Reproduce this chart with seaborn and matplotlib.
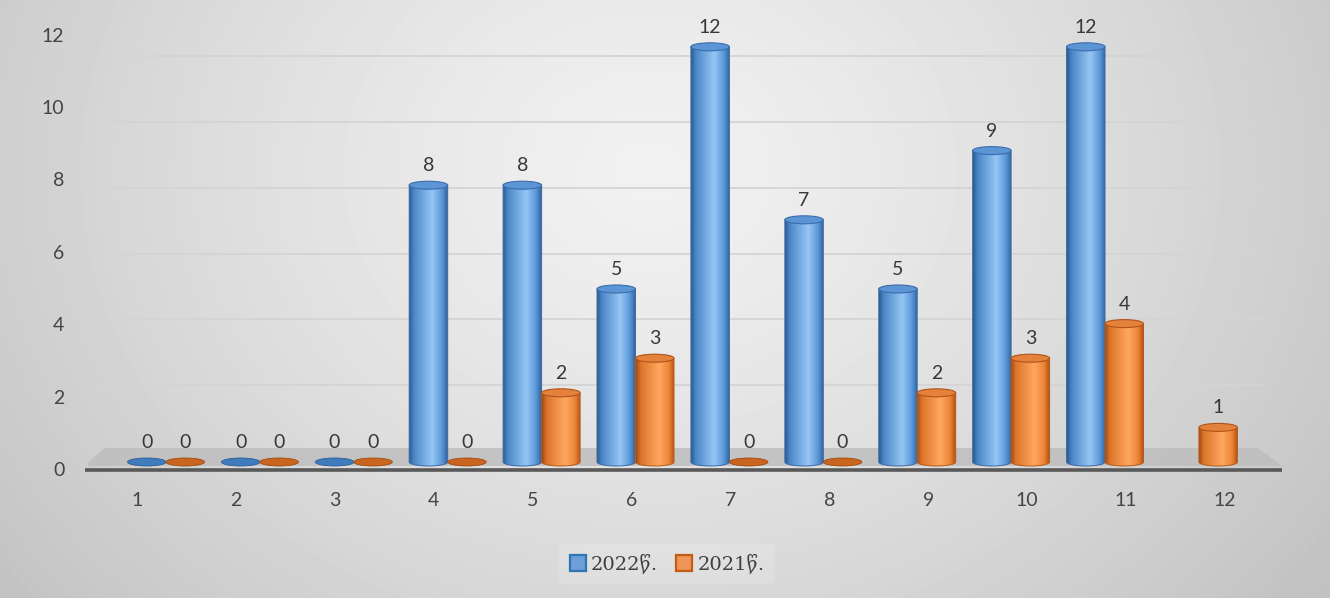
import numpy as np
import pandas as pd
import matplotlib
matplotlib.use("Agg")
import matplotlib.pyplot as plt
from matplotlib.patches import Ellipse, Polygon, PathPatch
from matplotlib.path import Path
from matplotlib.colors import LinearSegmentedColormap
from matplotlib.lines import Line2D
import seaborn as sns

# ---- data ----
months = ["1", "2", "3", "4", "5", "6", "7", "8", "9", "10", "11", "12"]
series_names = ["2022წ.", "2021წ."]
counts_2022 = [0, 0, 0, 8, 8, 5, 12, 7, 5, 9, 12, np.nan]
counts_2021 = [0, 0, 0, 0, 2, 3, 0, 0, 2, 3, 4, 1]
y_ticks = [0, 2, 4, 6, 8, 10, 12]

df = pd.DataFrame({
    "month": months * 2,
    "count": counts_2022 + counts_2021,
    "year": [series_names[0]] * len(months) + [series_names[1]] * len(months),
}).dropna()

# ---- styling ----
sns.set_theme(style="white")
plt.rcParams["font.family"] = ["Lato", "DejaVu Sans"]

W, H = 1330, 598
fig = plt.figure(figsize=(W / 100, H / 100), dpi=100)

# soft radial backdrop
bg = fig.add_axes([0, 0, 1, 1], zorder=-10)
yy, xx = np.mgrid[0:H, 0:W]
r = np.sqrt(((xx - 650) / 780.0) ** 2 + ((yy - 170) / 650.0) ** 2)
shade = np.clip(0.945 - 0.17 * r ** 1.3, 0, 1)
bg.imshow(shade, cmap="gray", vmin=0, vmax=1, extent=[0, W, H, 0], aspect="auto")
bg.set_xlim(0, W)
bg.set_ylim(H, 0)
bg.axis("off")

# pseudo-3D geometry (pixels): bars sit a bit behind the front edge
AX_L, AX_R, AX_T, AX_B = 88, 1290, 20, 470
BAR0_PX, BAR_STEP = 166.0, 93.9        # centre of first bar pair, spacing
LABEL0_PX, LABEL_STEP = 137.0, 98.9    # category labels on the front edge
BASE_PX, UNIT_PX = 462.0, 34.6         # bar base and height per unit
TICK0_PX, TICK_UNIT = 469.0, 36.2      # value scale on the front edge
WALL0_PX, WALL_UNIT = 451.0, 32.9      # value scale on the back wall


def dx(px):
    return (px - BAR0_PX) / BAR_STEP


def dy(py):
    return (BASE_PX - py) / UNIT_PX


ax = fig.add_axes([AX_L / W, 1 - AX_B / H, (AX_R - AX_L) / W, (AX_B - AX_T) / H])
ax.patch.set_alpha(0)

blue, orange = "#5b9bd5", "#ed7d31"
sns.barplot(data=df, x="month", y="count", hue="year", order=months,
            hue_order=series_names, palette=[blue, orange], width=0.82,
            saturation=1, errorbar=None, legend=False, ax=ax)

body_cmaps = {
    "blue": LinearSegmentedColormap.from_list(
        "cyl_b", [(0.0, "#2d5a8e"), (0.12, "#4a86c8"), (0.6, "#96c7f4"),
                  (0.85, "#5a96d8"), (1.0, "#2f5f98")]),
    "orange": LinearSegmentedColormap.from_list(
        "cyl_o", [(0.0, "#a2490e"), (0.12, "#dc742a"), (0.6, "#ffa860"),
                  (0.85, "#ec8536"), (1.0, "#aa4e11")]),
}
cap_colors = {"blue": ("#5b95d6", "#3c6cab"), "orange": ("#e4813a", "#b0541a")}
edge_colors = {"blue": "#3a6aa6", "orange": "#b85a18"}
disk_colors = {"blue": ("#3f7bbd", "#2d5e96"), "orange": ("#c9651f", "#a04a12")}

cap_h = 8.0 / UNIT_PX
grad = np.linspace(0, 1, 256).reshape(1, -1)
bars = list(ax.patches)
for p in bars:
    fc = p.get_facecolor()
    key = "blue" if fc[2] > fc[0] else "orange"
    x0, w, h = p.get_x(), p.get_width(), p.get_height()
    p.set_visible(False)
    cx = x0 + w / 2
    if h > 0:
        t = np.linspace(0, np.pi, 40)
        arc = np.column_stack([cx - w / 2 * np.cos(t), -cap_h / 2 * np.sin(t)])
        verts = np.vstack([[x0, h], arc, [x0 + w, h], [x0, h]])
        codes = [Path.MOVETO] + [Path.LINETO] * (len(verts) - 2) + [Path.CLOSEPOLY]
        body = PathPatch(Path(verts, codes), facecolor="none",
                         edgecolor=edge_colors[key], lw=0.7, zorder=4)
        ax.add_patch(body)
        im = ax.imshow(grad, cmap=body_cmaps[key], aspect="auto",
                       extent=[x0, x0 + w, -cap_h / 2, h], zorder=3,
                       interpolation="bicubic")
        im.set_clip_path(body)
        fcap, ecap = cap_colors[key]
        ax.add_patch(Ellipse((cx, h), w, cap_h, facecolor=fcap,
                             edgecolor=ecap, lw=0.8, zorder=5))
    else:
        fcap, ecap = disk_colors[key]
        ax.add_patch(Ellipse((cx, 0), w, cap_h, facecolor=fcap,
                             edgecolor=ecap, lw=0.6, zorder=5))
    ax.annotate(f"{int(h)}", (cx, h + cap_h / 2), xytext=(0, 5),
                textcoords="offset points", ha="center", va="bottom",
                fontsize=14, color="#383838", zorder=6)

# floor
floor = Polygon([[dx(85), dy(466)], [dx(1282), dy(466)],
                 [dx(1258), dy(448)], [dx(104), dy(448)]],
                closed=True, facecolor="#bebebe", edgecolor="none",
                alpha=0.85, zorder=2)
ax.add_patch(floor)

# back-wall gridlines
wall_y = [dy(WALL0_PX - WALL_UNIT * v) for v in y_ticks[1:]]
ax.hlines(wall_y, dx(100), dx(1262), color="#d4d4d4", lw=1.3, zorder=1)

# front axis line
ax.plot([dx(85), dx(1282)], [dy(AX_B)] * 2, color="#595959", lw=2.6,
        solid_capstyle="butt", clip_on=False, zorder=6)

ax.set_xticks([dx(LABEL0_PX + LABEL_STEP * i) for i in range(len(months))], months)
ax.set_yticks([dy(TICK0_PX - TICK_UNIT * v) for v in y_ticks],
              [str(v) for v in y_ticks])
ax.tick_params(axis="x", length=0, pad=16, labelsize=14, labelcolor="#454545")
ax.tick_params(axis="y", length=0, pad=17, labelsize=14, labelcolor="#454545")
ax.set_xlim(dx(AX_L), dx(AX_R))
ax.set_ylim(dy(AX_B), dy(AX_T))
ax.set_xlabel("")
ax.set_ylabel("")
ax.grid(False)
for s in ax.spines.values():
    s.set_visible(False)

handles = [Line2D([], [], ls="none", marker="s", markersize=11,
                  markerfacecolor=c, markeredgecolor=e, markeredgewidth=1.6)
           for c, e in [("#6f9fd8", "#2e75b6"), ("#f0955a", "#c55a11")]]
leg = fig.legend(handles, series_names, loc="center",
                 bbox_to_anchor=(667 / W, 1 - 564 / H), ncol=2,
                 frameon=True, handlelength=0.9, handletextpad=0.25,
                 columnspacing=0.9, borderpad=0.5,
                 prop={"family": ["DejaVu Serif", "DejaVu Sans"], "size": 14})
leg.get_frame().set_facecolor("white")
leg.get_frame().set_alpha(0.15)
leg.get_frame().set_edgecolor("none")
for t in leg.get_texts():
    t.set_color("#404040")

fig.savefig("out.png", dpi=100)
